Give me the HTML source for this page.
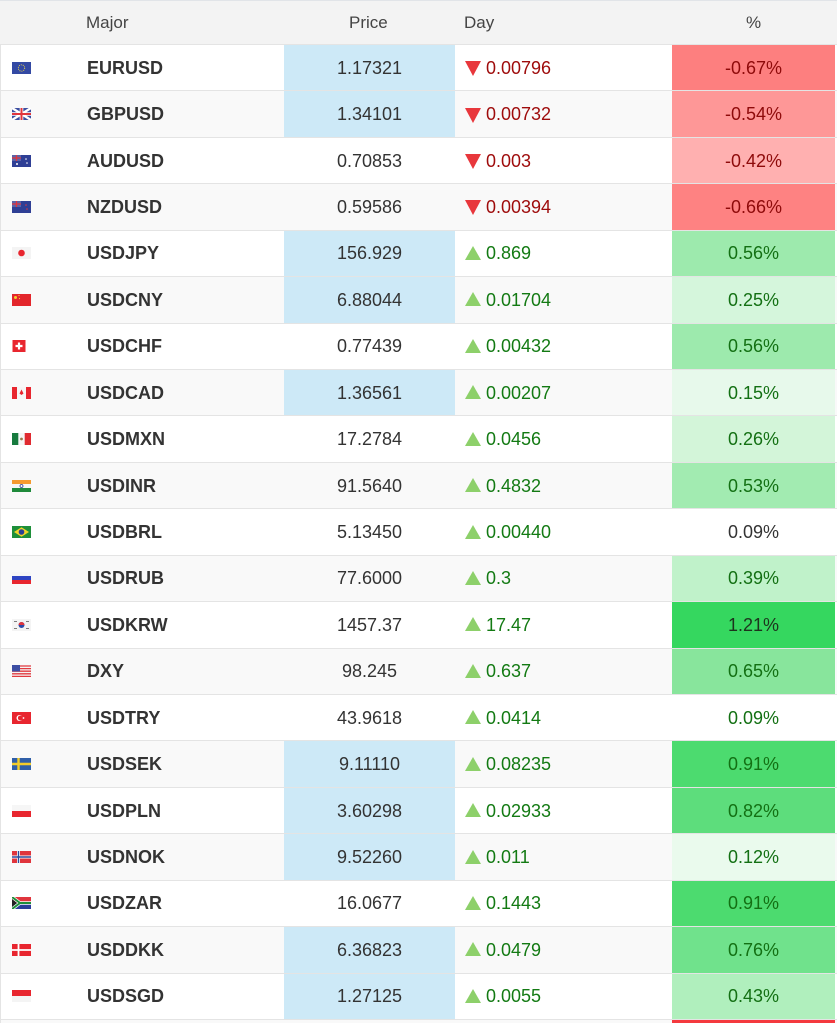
<!DOCTYPE html>
<html><head><meta charset="utf-8">
<style>
*{margin:0;padding:0;box-sizing:border-box}
html,body{width:837px;height:1023px;overflow:hidden;background:#fff;font-family:"Liberation Sans",Arial,sans-serif;position:relative}
.hd{position:absolute;left:0;top:0;width:837px;height:45px;background:#f3f3f3;border-top:1px solid #e1e4e8;border-bottom:1px solid #dcdfe3;color:#444;font-size:17px;}
.hd span{position:absolute;top:12px;}
.r{position:absolute;left:0;width:837px;height:46.43px;border-top:1px solid #e4e4e4;border-left:1px solid #e4e4e4;background:#fff;color:#333;font-size:18px;}
.r.g{background:#f9f9f9}
.r svg{position:absolute;left:11px;top:50%;margin-top:-6px}
.r b{position:absolute;left:86px;top:1px;bottom:0;display:flex;align-items:center;font-weight:bold;color:#333;}
.p{position:absolute;left:283px;width:171px;top:0;bottom:0;padding-top:1px;display:flex;align-items:center;justify-content:center;}
.bl{background:#cde9f7}
.d{position:absolute;left:454px;width:218px;top:0;bottom:0;padding-top:1px;display:flex;align-items:center;padding-left:10px;}
.d i{display:inline-block;width:0;height:0;margin-right:5px;border-left:8.5px solid transparent;border-right:8.5px solid transparent;}
.dn{color:#9e0b0b}
.dn i{border-top:15px solid #e8373c;margin-top:1px}
.up{color:#137a13}
.up i{border-bottom:14px solid #8dd06a;margin-top:-2px}
.c{position:absolute;left:671px;width:163px;top:0;bottom:0;padding-top:1px;display:flex;align-items:center;justify-content:center;}
.rd{color:#8e0a0a}
.gr{color:#137013}
</style></head><body>
<div class="hd"><span style="left:86px">Major</span><span style="left:349px">Price</span><span style="left:464px">Day</span><span style="left:746px">%</span></div>

<div class="r" style="top:44px"><svg width="19" height="12"><rect width="19" height="12" fill="#3349a3"/><circle cx="9.5" cy="6" r="3.2" fill="none" stroke="#e8d34a" stroke-width="0.9" stroke-dasharray="1 1"/></svg><b>EURUSD</b><div class="p bl">1.17321</div><div class="d dn"><i></i>0.00796</div><div class="c rd" style="background:#fd7f7f">-0.67%</div></div>

<div class="r g" style="top:90.43px"><svg width="19" height="12"><rect width="19" height="12" fill="#3b4ea0"/><path d="M0 0L19 12M19 0L0 12" stroke="#fff" stroke-width="2.4"/><path d="M9.5 0V12M0 6H19" stroke="#fff" stroke-width="3.6"/><path d="M9.5 0V12M0 6H19" stroke="#e0353d" stroke-width="2"/></svg><b>GBPUSD</b><div class="p bl">1.34101</div><div class="d dn"><i></i>0.00732</div><div class="c rd" style="background:#fe9797">-0.54%</div></div>

<div class="r" style="top:136.86px"><svg width="19" height="12"><rect width="19" height="12" fill="#2f3f95"/><rect width="9" height="6" fill="#5a64a8"/><path d="M4.5 0V6M0 3H9" stroke="#e0353d" stroke-width="1.2"/><circle cx="14" cy="4" r=".8" fill="#fff"/><circle cx="15" cy="8" r=".8" fill="#fff"/><circle cx="5" cy="9" r="1" fill="#fff"/></svg><b>AUDUSD</b><div class="p">0.70853</div><div class="d dn"><i></i>0.003</div><div class="c rd" style="background:#ffb0b0">-0.42%</div></div>

<div class="r g" style="top:183.29px"><svg width="19" height="12"><rect width="19" height="12" fill="#2f3f95"/><rect width="9" height="6" fill="#5a64a8"/><path d="M4.5 0V6M0 3H9" stroke="#e0353d" stroke-width="1.2"/><circle cx="14" cy="4" r=".8" fill="#e0353d"/><circle cx="15" cy="8" r=".8" fill="#e0353d"/></svg><b>NZDUSD</b><div class="p">0.59586</div><div class="d dn"><i></i>0.00394</div><div class="c rd" style="background:#fe8282">-0.66%</div></div>

<div class="r" style="top:229.72px"><svg width="19" height="12"><rect width="19" height="12" fill="#f4f4f4"/><circle cx="9.5" cy="6" r="3.3" fill="#e8262f"/></svg><b>USDJPY</b><div class="p bl">156.929</div><div class="d up"><i></i>0.869</div><div class="c gr" style="background:#9deaad">0.56%</div></div>

<div class="r g" style="top:276.15px"><svg width="19" height="12"><rect width="19" height="12" fill="#e3262c"/><circle cx="3.5" cy="3.5" r="1.5" fill="#f5d22e"/><circle cx="7" cy="1.5" r=".6" fill="#f5d22e"/><circle cx="7.5" cy="4.5" r=".6" fill="#f5d22e"/></svg><b>USDCNY</b><div class="p bl">6.88044</div><div class="d up"><i></i>0.01704</div><div class="c gr" style="background:#d5f6dc">0.25%</div></div>

<div class="r" style="top:322.58px"><svg width="19" height="12"><rect x="0.5" y="-0.5" width="13" height="13" fill="#e8262f"/><path d="M7 2.5V9.5M3.5 6H10.5" stroke="#fff" stroke-width="2.2"/></svg><b>USDCHF</b><div class="p">0.77439</div><div class="d up"><i></i>0.00432</div><div class="c gr" style="background:#9deaad">0.56%</div></div>

<div class="r g" style="top:369.01px"><svg width="19" height="12"><rect width="19" height="12" fill="#f6f6f6"/><rect width="5" height="12" fill="#e8262f"/><rect x="14" width="5" height="12" fill="#e8262f"/><path d="M9.5 2.5L11.5 6.5L9.5 8L7.5 6.5Z" fill="#e8262f"/></svg><b>USDCAD</b><div class="p bl">1.36561</div><div class="d up"><i></i>0.00207</div><div class="c gr" style="background:#e7f9eb">0.15%</div></div>

<div class="r" style="top:415.44px"><svg width="19" height="12"><rect width="19" height="12" fill="#f6f6f6"/><rect width="6.3" height="12" fill="#177a3e"/><rect x="12.7" width="6.3" height="12" fill="#e02a30"/><circle cx="9.5" cy="6" r="1.4" fill="#9a7a4a"/></svg><b>USDMXN</b><div class="p">17.2784</div><div class="d up"><i></i>0.0456</div><div class="c gr" style="background:#d3f5d9">0.26%</div></div>

<div class="r g" style="top:461.87px"><svg width="19" height="12"><rect width="19" height="12" fill="#f6f6f6"/><rect width="19" height="4" fill="#f59a2f"/><rect y="8" width="19" height="4" fill="#1f8a3b"/><circle cx="9.5" cy="6" r="1.5" fill="none" stroke="#2a3a8f" stroke-width=".8"/></svg><b>USDINR</b><div class="p">91.5640</div><div class="d up"><i></i>0.4832</div><div class="c gr" style="background:#a2ebb1">0.53%</div></div>

<div class="r" style="top:508.3px"><svg width="19" height="12"><rect width="19" height="12" fill="#1e8f3a"/><path d="M9.5 1.2L17 6L9.5 10.8L2 6Z" fill="#f1d42a"/><circle cx="9.5" cy="6" r="2.8" fill="#2a3f95"/></svg><b>USDBRL</b><div class="p">5.13450</div><div class="d up"><i></i>0.00440</div><div class="c" style="color:#333">0.09%</div></div>

<div class="r g" style="top:554.73px"><svg width="19" height="12"><rect width="19" height="12" fill="#f6f6f6"/><rect y="4" width="19" height="4" fill="#2e44c2"/><rect y="8" width="19" height="4" fill="#e8262f"/></svg><b>USDRUB</b><div class="p">77.6000</div><div class="d up"><i></i>0.3</div><div class="c gr" style="background:#c0f2ca">0.39%</div></div>

<div class="r" style="top:601.16px"><svg width="19" height="12"><rect width="19" height="12" fill="#f4f4f4"/><circle cx="9.5" cy="6" r="3" fill="#2a4aa8"/><path d="M6.5 6A3 3 0 0 1 12.5 6Z" fill="#e0353d"/><path d="M2 2.5H5M14 2.5H17M2 9.5H5M14 9.5H17" stroke="#555" stroke-width=".8"/></svg><b>USDKRW</b><div class="p">1457.37</div><div class="d up"><i></i>17.47</div><div class="c" style="background:#35d75f;color:#1d331d">1.21%</div></div>

<div class="r g" style="top:647.59px"><svg width="19" height="12"><rect width="19" height="12" fill="#f4f4f4"/><path d="M0 1H19M0 3.6H19M0 6.2H19M0 8.8H19M0 11.4H19" stroke="#e23a40" stroke-width="1.3"/><rect width="8" height="6.5" fill="#3d4ea3"/></svg><b>DXY</b><div class="p">98.245</div><div class="d up"><i></i>0.637</div><div class="c gr" style="background:#88e59c">0.65%</div></div>

<div class="r" style="top:694.02px"><svg width="19" height="12"><rect width="19" height="12" fill="#e8262f"/><circle cx="7.5" cy="6" r="3" fill="#fff"/><circle cx="8.3" cy="6" r="2.4" fill="#e8262f"/><circle cx="11.5" cy="6" r=".9" fill="#fff"/></svg><b>USDTRY</b><div class="p">43.9618</div><div class="d up"><i></i>0.0414</div><div class="c gr">0.09%</div></div>

<div class="r g" style="top:740.45px"><svg width="19" height="12"><rect width="19" height="12" fill="#2f5fa8"/><path d="M6.5 0V12M0 6H19" stroke="#f2cc2a" stroke-width="2.4"/></svg><b>USDSEK</b><div class="p bl">9.11110</div><div class="d up"><i></i>0.08235</div><div class="c gr" style="background:#4cdb6f">0.91%</div></div>

<div class="r" style="top:786.88px"><svg width="19" height="12"><rect width="19" height="12" fill="#f6f6f6"/><rect y="6" width="19" height="6" fill="#e8262f"/></svg><b>USDPLN</b><div class="p bl">3.60298</div><div class="d up"><i></i>0.02933</div><div class="c gr" style="background:#5ddd7c">0.82%</div></div>

<div class="r g" style="top:833.31px"><svg width="19" height="12"><rect width="19" height="12" fill="#e0353d"/><path d="M6.5 0V12M0 6H19" stroke="#fff" stroke-width="3"/><path d="M6.5 0V12M0 6H19" stroke="#2a4a9a" stroke-width="1.4"/></svg><b>USDNOK</b><div class="p bl">9.52260</div><div class="d up"><i></i>0.011</div><div class="c gr" style="background:#eafaed">0.12%</div></div>

<div class="r" style="top:879.74px"><svg width="19" height="12"><rect width="19" height="6" fill="#e0353d"/><rect y="6" width="19" height="6" fill="#2a3f9a"/><path d="M0 0L8 6L0 12M8 6H19" stroke="#fff" stroke-width="3.4" fill="none"/><path d="M0 0L8 6L0 12M8 6H19" stroke="#1e8f3a" stroke-width="2" fill="none"/><path d="M0 2L5 6L0 10Z" fill="#222"/></svg><b>USDZAR</b><div class="p">16.0677</div><div class="d up"><i></i>0.1443</div><div class="c gr" style="background:#4cdb6f">0.91%</div></div>

<div class="r g" style="top:926.17px"><svg width="19" height="12"><rect width="19" height="12" fill="#e8262f"/><path d="M6.5 0V12M0 6H19" stroke="#fff" stroke-width="1.8"/></svg><b>USDDKK</b><div class="p bl">6.36823</div><div class="d up"><i></i>0.0479</div><div class="c gr" style="background:#70e28c">0.76%</div></div>

<div class="r" style="top:972.6px"><svg width="19" height="12"><rect width="19" height="12" fill="#f4f4f4"/><rect width="19" height="6" fill="#e8262f"/></svg><b>USDSGD</b><div class="p bl">1.27125</div><div class="d up"><i></i>0.0055</div><div class="c gr" style="background:#b0efbd">0.43%</div></div>

<div class="r g" style="top:1019px;height:4px"><div class="c" style="background:#f4393e;padding:0"></div></div>
</body></html>
